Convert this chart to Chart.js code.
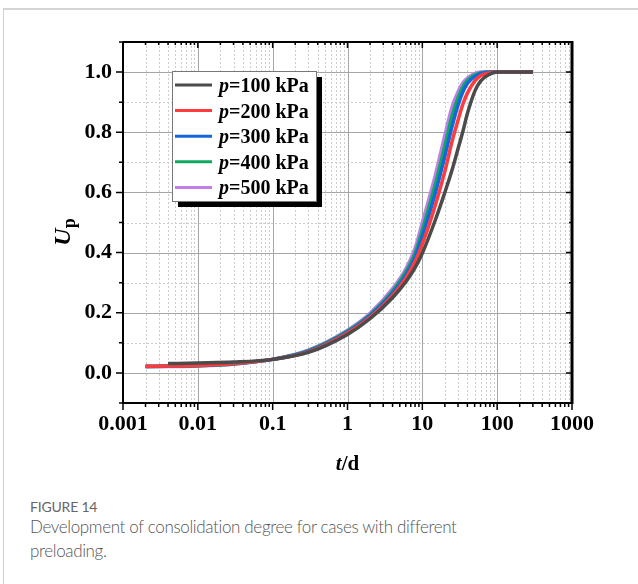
<!DOCTYPE html>
<html>
<head>
<meta charset="utf-8">
<script src="https://cdn.jsdelivr.net/npm/chart.js@4.4.1/dist/chart.umd.min.js"></script>
<style>
  body { margin: 0; background: #fff; width: 638px; height: 584px; overflow: hidden; position: relative; }
  #card { position: absolute; left: 3px; top: 8px; width: 700px; height: 700px; border-left: 1px solid #cfcfcf; border-top: 2px solid #d4d4d4; }
  #chart { position: absolute; left: 0; top: 0; }
  .fig { position: absolute; left: 30px; top: 500px; font: 14px/14px Lato, sans-serif; color: #666; letter-spacing: -0.2px; }
  .cap { position: absolute; left: 30px; top: 515px; font: 300 17px/24px Lato, sans-serif; color: #555; letter-spacing: -0.35px; }
</style>
</head>
<body>
<div id="card"></div>
<canvas id="chart" width="638" height="480"></canvas>
<div class="fig">FIGURE 14</div>
<div class="cap">Development of consolidation degree for cases with different<br>preloading.</div>
<script>
// time (d)
const times = [0.002, 0.004, 0.01, 0.03, 0.1, 0.3, 1, 2, 4, 6, 8, 10, 15, 20, 25, 30, 35, 40, 50, 60, 80, 100, 300];
// degree of consolidation Up for each preload
const up100 = [null, 0.031, 0.033, 0.036, 0.045, 0.068, 0.128, 0.180, 0.250, 0.302, 0.350, 0.398, 0.510, 0.600, 0.675, 0.745, 0.805, 0.862, 0.935, 0.970, 0.993, 1.000, 1.000];
const up200 = [0.022, 0.023, 0.025, 0.031, 0.045, 0.070, 0.133, 0.185, 0.258, 0.315, 0.370, 0.428, 0.560, 0.670, 0.770, 0.840, 0.895, 0.930, 0.970, 0.988, 0.998, 1.000, 1.000];
const up300 = [0.022, 0.023, 0.025, 0.031, 0.045, 0.072, 0.136, 0.190, 0.265, 0.325, 0.385, 0.455, 0.600, 0.720, 0.820, 0.890, 0.935, 0.962, 0.985, 0.995, 1.000, 1.000, 1.000];
const up400 = [0.021, 0.022, 0.024, 0.030, 0.045, 0.074, 0.139, 0.193, 0.272, 0.335, 0.398, 0.475, 0.630, 0.755, 0.855, 0.915, 0.952, 0.972, 0.990, 0.997, 1.000, 1.000, 1.000];
const up500 = [0.020, 0.021, 0.023, 0.029, 0.045, 0.076, 0.142, 0.198, 0.280, 0.345, 0.415, 0.500, 0.660, 0.790, 0.885, 0.935, 0.965, 0.980, 0.995, 1.000, 1.000, 1.000, 1.000];

const pressures = [100, 200, 300, 400, 500];
const colors = ['#4b4b4b', '#ff3b3b', '#1466dc', '#12a862', '#c27ee8'];
const xTickLabels = ['0.001', '0.01', '0.1', '1', '10', '100', '1000'];
const serif = '"Liberation Serif", "Times New Roman", serif';

function toPoints(vals) {
    return times.map((t, i) => ({ x: t, y: vals[i] })).filter(p => p.y !== null);
}

const allSeries = [up100, up200, up300, up400, up500];

// grid, frame, ticks, legend and axis titles
const decorPlugin = {
    id: 'decor',
    beforeDatasetsDraw(chart) {
        const ctx = chart.ctx, a = chart.chartArea;
        const xs = chart.scales.x, ys = chart.scales.y;
        ctx.save();
        ctx.lineWidth = 1;
        for (let d = -3; d < 3; d++) {
            for (let m = 1; m <= 9; m++) {
                const px = Math.round(xs.getPixelForValue(m * Math.pow(10, d))) + 0.5;
                if (d === -3 && m === 1) continue;
                ctx.beginPath();
                if (m === 1) { ctx.setLineDash([]); ctx.strokeStyle = '#a6a6a6'; }
                else { ctx.setLineDash([2, 2]); ctx.strokeStyle = '#cdcdcd'; }
                ctx.moveTo(px, a.top); ctx.lineTo(px, a.bottom); ctx.stroke();
            }
        }
        for (let k = 0; k <= 10; k++) {
            const py = Math.round(ys.getPixelForValue(k / 10)) + 0.5;
            ctx.beginPath();
            if (k % 2 === 0) { ctx.setLineDash([]); ctx.strokeStyle = '#a6a6a6'; }
            else { ctx.setLineDash([2, 2]); ctx.strokeStyle = '#cdcdcd'; }
            ctx.moveTo(a.left, py); ctx.lineTo(a.right, py); ctx.stroke();
        }
        ctx.restore();
    },
    afterDatasetsDraw(chart) {
        const ctx = chart.ctx, a = chart.chartArea;
        const xs = chart.scales.x, ys = chart.scales.y;
        ctx.save();
        ctx.strokeStyle = '#000';
        ctx.setLineDash([]);
        // ticks
        ctx.lineWidth = 1.5;
        for (let d = -3; d <= 3; d++) {
            for (let m = 1; m <= 9; m++) {
                const v = m * Math.pow(10, d);
                if (v > 1000.0001) break;
                const px = xs.getPixelForValue(v);
                const big = m === 1;
                ctx.beginPath();
                ctx.moveTo(px, a.bottom); ctx.lineTo(px, a.bottom + (big ? 7 : 4));
                ctx.moveTo(px, a.top); ctx.lineTo(px, a.top + (big ? 6 : 3));
                ctx.stroke();
            }
        }
        for (let k = -1; k <= 11; k++) {
            const py = ys.getPixelForValue(k / 10);
            const big = k % 2 === 0;
            ctx.beginPath();
            ctx.moveTo(a.left, py); ctx.lineTo(a.left - (big ? 7 : 4), py);
            ctx.moveTo(a.right, py); ctx.lineTo(a.right - (big ? 6 : 3), py);
            ctx.stroke();
        }
        // frame
        ctx.lineWidth = 2;
        ctx.beginPath();
        ctx.moveTo(a.left, a.top); ctx.lineTo(a.left, a.bottom); ctx.lineTo(a.right, a.bottom);
        ctx.moveTo(a.left, a.top); ctx.lineTo(a.right, a.top);
        ctx.stroke();
        ctx.lineWidth = 3;
        ctx.beginPath();
        ctx.moveTo(a.right, a.top - 1); ctx.lineTo(a.right, a.bottom + 1);
        ctx.stroke();

        // legend
        const lx = 172, ly = 71, lw = 144, lh = 130;
        ctx.fillStyle = '#000';
        ctx.fillRect(lx + 6, ly + 6, lw, lh);
        ctx.fillStyle = '#fff';
        ctx.fillRect(lx, ly, lw, lh);
        ctx.lineWidth = 1;
        ctx.strokeStyle = '#777';
        ctx.strokeRect(lx + 0.5, ly + 0.5, lw, lh);
        ctx.textBaseline = 'alphabetic';
        pressures.forEach((p, i) => {
            const y = ly + 14 + i * 25.6;
            ctx.strokeStyle = colors[i];
            ctx.lineWidth = 3;
            ctx.beginPath(); ctx.moveTo(175, y); ctx.lineTo(212, y); ctx.stroke();
            ctx.fillStyle = '#000';
            ctx.font = 'italic bold 20px ' + serif;
            ctx.textAlign = 'left';
            ctx.fillText('p', 219, y + 7);
            const w = ctx.measureText('p').width;
            ctx.font = 'bold 20px ' + serif;
            ctx.fillText('=' + p + ' kPa', 219 + w, y + 7);
        });

        // x title
        ctx.fillStyle = '#000';
        ctx.font = 'italic bold 21px ' + serif;
        const tw = ctx.measureText('t').width;
        ctx.font = 'bold 21px ' + serif;
        const dw = ctx.measureText('/d').width;
        const x0 = (a.left + a.right) / 2 - (tw + dw) / 2;
        ctx.font = 'italic bold 21px ' + serif;
        ctx.fillText('t', x0, 470);
        ctx.font = 'bold 21px ' + serif;
        ctx.fillText('/d', x0 + tw, 470);

        // y title
        ctx.translate(70, 232);
        ctx.rotate(-Math.PI / 2);
        ctx.font = 'italic bold 24px ' + serif;
        const uw = ctx.measureText('U').width;
        ctx.font = 'bold 18px ' + serif;
        const pw = ctx.measureText('p').width;
        const sx = -(uw + pw) / 2;
        ctx.font = 'italic bold 24px ' + serif;
        ctx.fillText('U', sx, 0);
        ctx.font = 'bold 18px ' + serif;
        ctx.fillText('p', sx + uw, 5);
        ctx.restore();
    }
};

const ctx = document.getElementById('chart').getContext('2d');
new Chart(ctx, {
    type: 'line',
    data: {
        datasets: allSeries.map((vals, i) => ({
            label: 'p=' + pressures[i] + ' kPa',
            data: toPoints(vals),
            borderColor: colors[i],
            backgroundColor: colors[i],
            borderWidth: 3.5,
            pointRadius: 0,
            fill: false,
            cubicInterpolationMode: 'monotone'
        }))
    },
    options: {
        responsive: false,
        animation: false,
        layout: { padding: { left: 0, top: 42, right: 66, bottom: 0 } },
        plugins: { legend: { display: false }, tooltip: { enabled: false } },
        scales: {
            x: {
                type: 'logarithmic',
                min: 0.001,
                max: 1000,
                grid: { display: false, drawTicks: false },
                border: { display: false },
                ticks: {
                    autoSkip: false,
                    maxRotation: 0,
                    padding: 8,
                    color: '#000',
                    font: { family: serif, size: 22, weight: 'bold' },
                    callback: function (v) {
                        const e = Math.log10(v);
                        if (Math.abs(e - Math.round(e)) < 1e-6) return xTickLabels[Math.round(e) + 3];
                        return '';
                    }
                },
                afterFit: function (s) { s.height = 77; }
            },
            y: {
                min: -0.1,
                max: 1.1,
                grid: { display: false, drawTicks: false },
                border: { display: false },
                ticks: {
                    stepSize: 0.1,
                    padding: 11,
                    color: '#000',
                    font: { family: serif, size: 22, weight: 'bold' },
                    callback: function (v) {
                        const k = Math.round(v * 10);
                        if (k >= 0 && k <= 10 && k % 2 === 0) return (k / 10).toFixed(1);
                        return '';
                    }
                },
                afterFit: function (s) { s.width = 123; }
            }
        }
    },
    plugins: [decorPlugin]
});
</script>
</body>
</html>
